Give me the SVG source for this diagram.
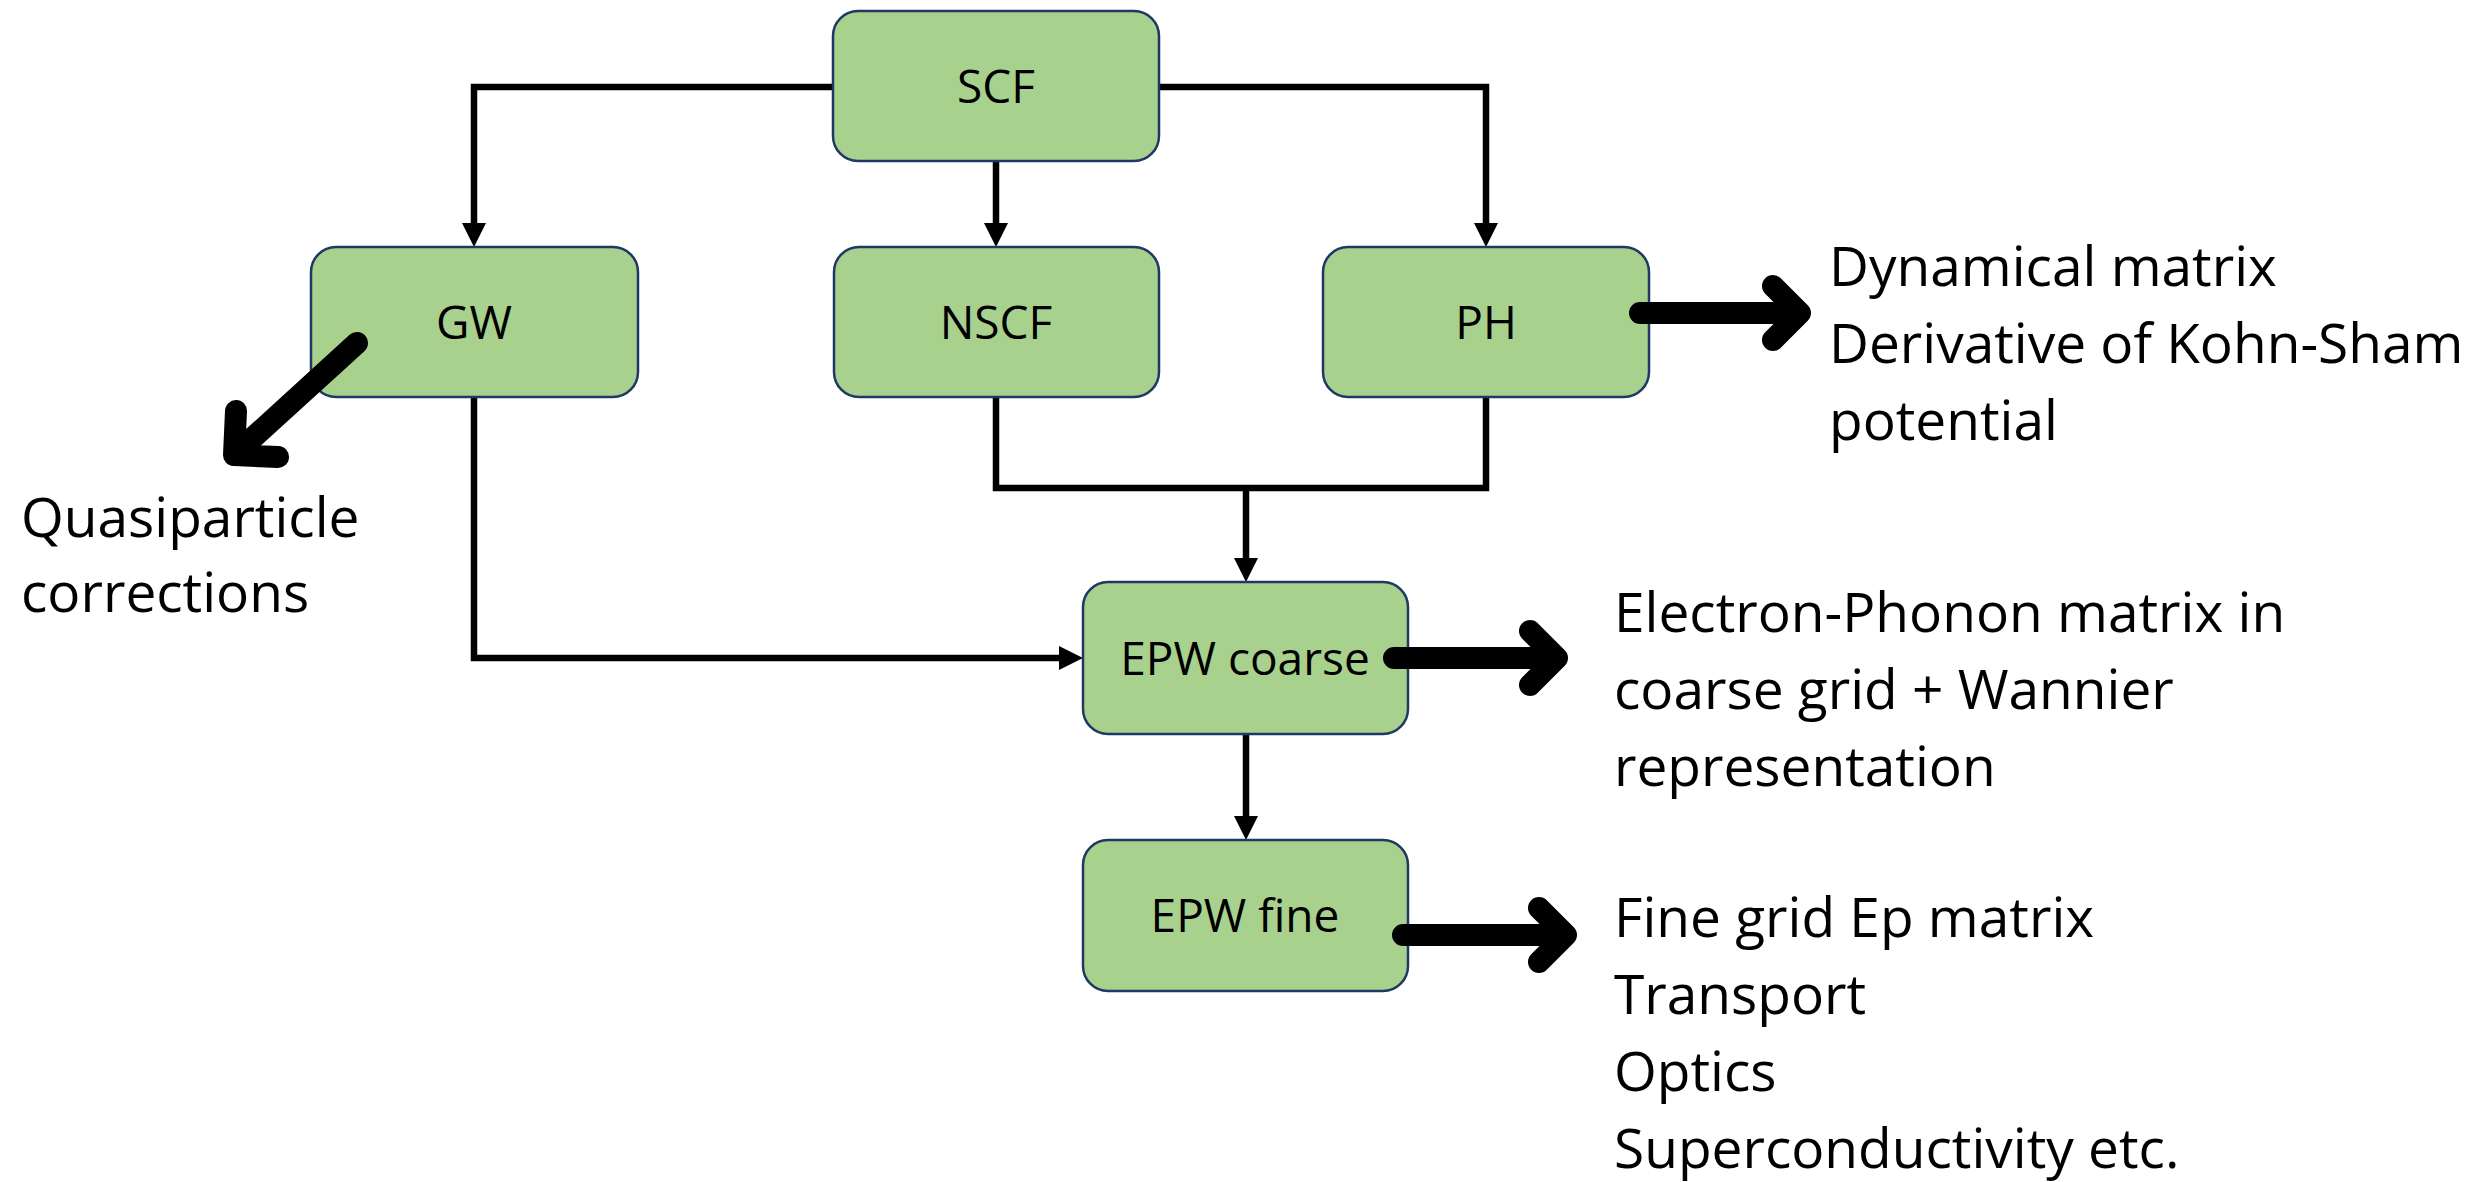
<svg xmlns="http://www.w3.org/2000/svg" width="2479" height="1182" viewBox="0 0 2479 1182">
<style>
.box{fill:#A9D18E;stroke:#1F3864;stroke-width:2.5}
.lbl{font-family:"Open Sans","Noto Sans",sans-serif;font-size:46px;fill:#000;text-anchor:middle}
.txt{font-family:"Open Sans","Noto Sans",sans-serif;font-size:55px;fill:#000}
.conn{fill:none;stroke:#000;stroke-width:6.5;stroke-linejoin:miter}
.thick{fill:none;stroke:#000;stroke-width:22;stroke-linecap:round;stroke-linejoin:round}
</style>
<defs>
<marker id="ah" markerUnits="userSpaceOnUse" viewBox="0 0 24 24" markerWidth="24" markerHeight="24" refX="12" refY="12" orient="auto">
<path d="M0,0 L24,12 L0,24 z" fill="#000"/>
</marker>
</defs>
<rect width="2479" height="1182" fill="#fff"/>
<g id="connectors">
<path class="conn" d="M833,87 H474 V235" marker-end="url(#ah)"/>
<path class="conn" d="M1159,87 H1486 V235" marker-end="url(#ah)"/>
<path class="conn" d="M996,161 V235" marker-end="url(#ah)"/>
<path class="conn" d="M996,397 V488 H1486 V397"/>
<path class="conn" d="M1246,488 V570" marker-end="url(#ah)"/>
<path class="conn" d="M474,397 V658 H1071" marker-end="url(#ah)"/>
<path class="conn" d="M1246,734 V828" marker-end="url(#ah)"/>
</g>
<g id="node-scf"><rect class="box" x="833" y="11" width="326" height="150" rx="25"/><text class="lbl" x="996" y="103">SCF</text></g>
<g id="node-gw"><rect class="box" x="311" y="247" width="327" height="150" rx="25"/><text class="lbl" x="474" y="339">GW</text></g>
<g id="node-nscf"><rect class="box" x="834" y="247" width="325" height="150" rx="25"/><text class="lbl" x="996" y="339">NSCF</text></g>
<g id="node-ph"><rect class="box" x="1323" y="247" width="326" height="150" rx="25"/><text class="lbl" x="1486" y="339">PH</text></g>
<g id="node-epw-coarse"><rect class="box" x="1083" y="582" width="325" height="152" rx="25"/><text class="lbl" x="1245" y="675">EPW coarse</text></g>
<g id="node-epw-fine"><rect class="box" x="1083" y="840" width="325" height="151" rx="25"/><text class="lbl" x="1245" y="932">EPW fine</text></g>
<g id="outputs">
<path class="thick" d="M357,343 L234,455 M236,411 L234,455 L278,457"/>
<path class="thick" d="M1640,313 H1800 M1773,286 L1800,313 L1773,340"/>
<path class="thick" d="M1394,658 H1557 M1530,631 L1557,658 L1530,685"/>
<path class="thick" d="M1403,935 H1566 M1539,908 L1566,935 L1539,962"/>
</g>
<g id="texts">
<text class="txt" x="21" y="537">Quasiparticle</text>
<text class="txt" x="21" y="612">corrections</text>
<text class="txt" x="1829" y="286">Dynamical matrix</text>
<text class="txt" x="1829" y="363">Derivative of Kohn-Sham</text>
<text class="txt" x="1829" y="440">potential</text>
<text class="txt" x="1614" y="632">Electron-Phonon matrix in</text>
<text class="txt" x="1614" y="709">coarse grid + Wannier</text>
<text class="txt" x="1614" y="786">representation</text>
<text class="txt" x="1614" y="937">Fine grid Ep matrix</text>
<text class="txt" x="1614" y="1014">Transport</text>
<text class="txt" x="1614" y="1091">Optics</text>
<text class="txt" x="1614" y="1168">Superconductivity etc.</text>
</g>
</svg>
